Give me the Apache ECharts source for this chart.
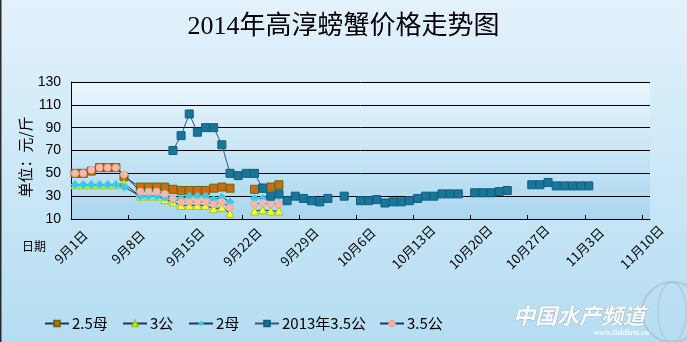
<!DOCTYPE html>
<html>
<head>
<meta charset="utf-8">
<script src="https://cdn.jsdelivr.net/npm/echarts@6/dist/echarts.min.js"></script>
<style>
html,body{margin:0;padding:0;}
#chart{width:687px;height:342px;}
</style>
</head>
<body>
<div id="chart"></div>
<script>
// ---- data ----
const dates2014 = ['9/1','9/2','9/3','9/4','9/5','9/6','9/7','9/9','9/10','9/11','9/12','9/13','9/14','9/15','9/16','9/17','9/18','9/19','9/20','9/21','9/22','9/23','9/24','9/25','9/26'];
const price25mu  = [50,50,52,55,55,55,47, 38,38,38,38,36,35,35,35,35,37,38,37, null,null, 36,37,38,40];
const price3gong = [40,40,40,40,40,40,41, 30,30,30,27,25,22,22,22,22,19,20,15, null,null, 17,18,17,17];
const price2mu   = [40,40,40,40,40,40,38, 30,30,30,29,27,28,30,30,30,27,29,25, null,null, 28,28,29,30];
const price35gong= [50,50,53,55,55,55,49, 34,34,34,32,28,25,25,25,25,23,25,20, null,null, 23,24,23,23];

const dates2013 = ['9/13','9/14','9/15','9/16','9/17','9/18','9/19','9/20','9/21','9/22','9/23','9/24','9/25','9/26','9/27','9/28','9/29','9/30',
  '10/1','10/2','10/3','10/4','10/5','10/6','10/7','10/8','10/9','10/10','10/11','10/12','10/13','10/14','10/15','10/16','10/17','10/18','10/19',
  '10/20','10/21','10/22','10/23','10/24','10/25','10/26','10/27','10/28','10/29','10/30','10/31','11/1','11/2','11/3'];
const price2013 = [70,83,102,86,90,90,75,50,48,50,50,37,30,32,26,30,28,26,
  25,28,null,30,null,26,26,27,24,25,25,26,28,30,30,32,32,32,null,
  33,33,33,34,35,null,null,40,40,42,39,39,39,39,39];

const xTickDates = ['9/1','9/8','9/15','9/22','9/29','10/6','10/13','10/20','10/27','11/3','11/10'];
const xAxisStart = '9/1';
const xAxisEnd = '11/11';
const yTicks = [10,30,50,70,90,110,130];

const seriesNames = ['2.5母','3公','2母','2013年3.5公','3.5公'];

// ---- helpers ----
function dayIndex(s){
  const [m,d] = s.split('/').map(Number);
  const [m0,d0] = xAxisStart.split('/').map(Number);
  return Math.round((Date.UTC(2014,m-1,d) - Date.UTC(2014,m0-1,d0)) / 86400000);
}
function pairs(dates, vals){
  // each point sits in the middle of its day
  return dates.map((s,i) => [dayIndex(s) + 0.5, vals[i] == null ? '-' : vals[i]]);
}
function dayLabel(v){
  const [m0,d0] = xAxisStart.split('/').map(Number);
  const dt = new Date(Date.UTC(2014, m0-1, d0 + Math.round(v)));
  return (dt.getUTCMonth()+1) + '月' + dt.getUTCDate() + '日';
}
const xTickVals = xTickDates.map(dayIndex);

const lineCol = '#1f355e';
const cjk = "'Noto Sans CJK SC', sans-serif";
const num = "'Liberation Serif', 'Noto Sans CJK SC', serif";

const chart = echarts.init(document.getElementById('chart'), null, {renderer:'canvas'});

function legendAt(name, left){
  return {
    data:[name], left:left, top:311, itemWidth:24, itemHeight:7, itemGap:0,
    textStyle:{fontFamily:cjk, fontSize:15, color:'#000', padding:[0,0,0,-2]}
  };
}

const option = {
  animation:false,
  backgroundColor: new echarts.graphic.LinearGradient(0,0,0,1,[
    {offset:0,color:'#e3f2fc'},{offset:1,color:'#b5ddf2'}]),
  title:{
    text:'2014年高淳螃蟹价格走势图', left:'center', top:9,
    textStyle:{fontFamily:num, fontSize:26, fontWeight:'normal', color:'#000'}
  },
  legend:[
    legendAt(seriesNames[0], 39),
    legendAt(seriesNames[1], 117),
    legendAt(seriesNames[2], 183),
    legendAt(seriesNames[3], 249),
    legendAt(seriesNames[4], 374)
  ],
  grid:{
    left:71, right:37, top:82, bottom:123, show:true, borderWidth:0,
    backgroundColor: new echarts.graphic.LinearGradient(0,0,0,1,[
      {offset:0,color:'#eaf6fd'},{offset:1,color:'#a9d6ef'}])
  },
  xAxis:{
    type:'value', min:dayIndex(xAxisStart), max:dayIndex(xAxisEnd),
    axisLine:{show:true, lineStyle:{color:'#000', width:1}},
    axisTick:{show:true, inside:true, length:4, customValues:xTickVals, lineStyle:{color:'#000'}},
    axisLabel:{
      customValues:xTickVals, rotate:45, align:'center', verticalAlign:'middle', margin:28,
      formatter:dayLabel, fontFamily:cjk, fontSize:13, color:'#000'
    },
    splitLine:{show:false}
  },
  yAxis:{
    type:'value', min:yTicks[0], max:yTicks[yTicks.length-1], interval:yTicks[1]-yTicks[0],
    axisLine:{show:true, lineStyle:{color:'#000', width:1}},
    axisTick:{show:false},
    axisLabel:{fontFamily:"'Liberation Sans', sans-serif", fontSize:14, color:'#000', margin:10},
    splitLine:{show:true, lineStyle:{color:'#000', width:1}}
  },
  graphic:[
    {type:'line', shape:{x1:0.5,y1:0,x2:0.5,y2:342}, style:{stroke:'#2a2a2a', lineWidth:2}, z:100},
    {type:'text', x:25, y:157, rotation:Math.PI/2,
      style:{text:'单位：元/斤', fontFamily:cjk, fontSize:15, fill:'#000', align:'center', verticalAlign:'middle'}},
    {type:'text', x:22, y:246,
      style:{text:'日期', fontFamily:cjk, fontSize:12, fill:'#000', align:'left', verticalAlign:'middle'}},
    {type:'circle', shape:{cx:672, cy:312, r:30}, style:{fill:'none', stroke:'rgba(170,180,190,0.55)', lineWidth:2}},
    {type:'ellipse', shape:{cx:672, cy:312, rx:14, ry:30}, style:{fill:'none', stroke:'rgba(170,180,190,0.45)', lineWidth:1.5}},
    {type:'text', x:513, y:316,
      style:{text:'中国水产频道', fontFamily:cjk, fontSize:22, fontWeight:'bold', fontStyle:'italic',
        fill:'rgba(255,255,255,0.92)', stroke:'rgba(140,150,160,0.5)', lineWidth:1, align:'left', verticalAlign:'middle'}},
    {type:'text', x:649, y:333,
      style:{text:'www.fishfirst.cn', fontFamily:"'Liberation Serif', serif", fontSize:8, fontWeight:'bold',
        fill:'rgba(255,255,255,0.9)', align:'right', verticalAlign:'middle'}}
  ],
  series:[
    {name:seriesNames[0], type:'line', data:pairs(dates2014, price25mu), symbol:'rect', symbolSize:8,
      lineStyle:{color:lineCol, width:1}, itemStyle:{color:'#cf6a12', borderColor:'#5f6e08', borderWidth:1}, z:3},
    {name:seriesNames[1], type:'line', data:pairs(dates2014, price3gong), symbol:'triangle', symbolSize:8,
      lineStyle:{color:lineCol, width:1}, itemStyle:{color:'#ffff33', borderColor:'#9acd1a', borderWidth:1}, z:3},
    {name:seriesNames[2], type:'line', data:pairs(dates2014, price2mu), symbol:'diamond', symbolSize:9,
      lineStyle:{color:lineCol, width:1}, itemStyle:{color:'#33ccf6', borderColor:'#33ccf6', borderWidth:0}, z:4},
    {name:seriesNames[3], type:'line', data:pairs(dates2013, price2013), symbol:'rect', symbolSize:8,
      lineStyle:{color:'#3c5478', width:1}, itemStyle:{color:'#17769a', borderColor:'#125f7e', borderWidth:1}, z:5},
    {name:seriesNames[4], type:'line', data:pairs(dates2014, price35gong), symbol:'circle', symbolSize:7,
      lineStyle:{color:lineCol, width:1}, itemStyle:{color:'#f7b9aa', borderColor:'#eea79a', borderWidth:1}, z:4}
  ]
};
chart.setOption(option);
</script>
</body>
</html>
